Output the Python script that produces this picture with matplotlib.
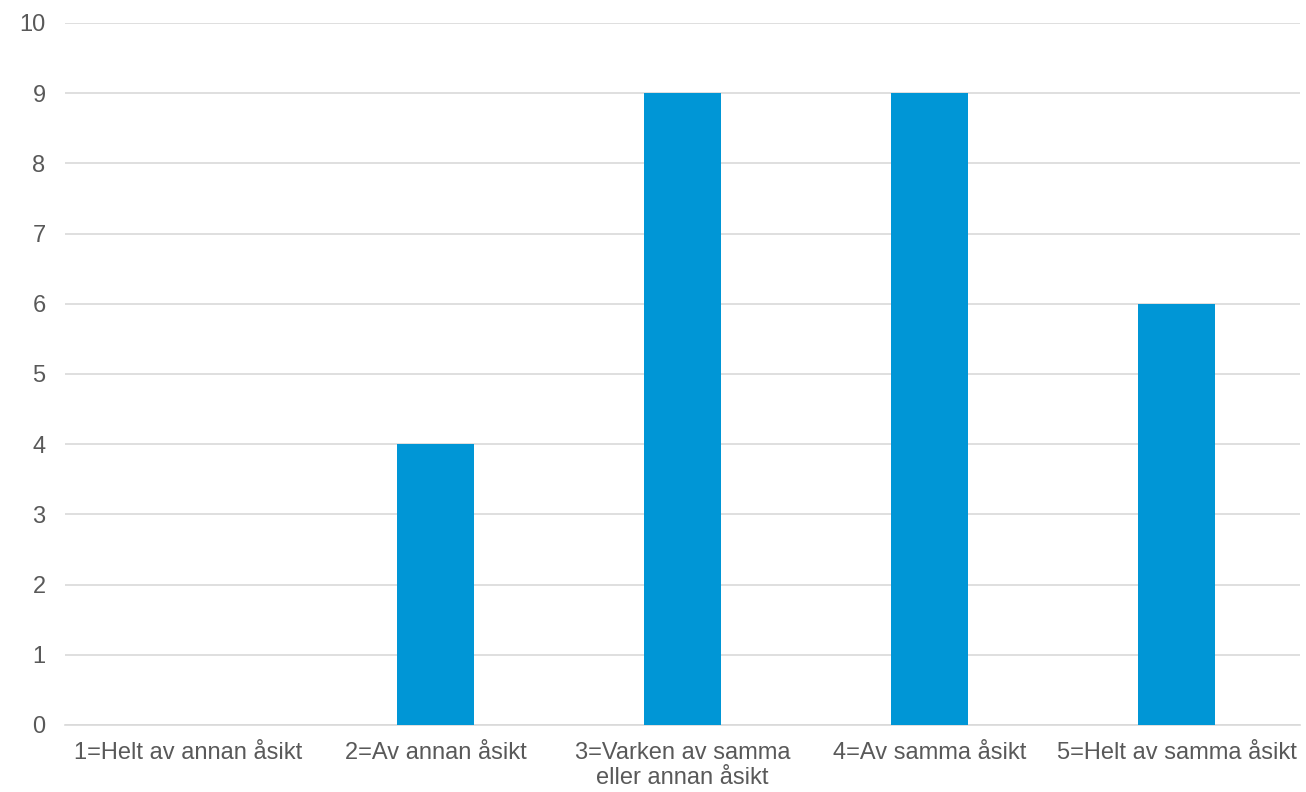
import matplotlib.pyplot as plt
import numpy as np

# answers to the question and how many picked each
categories = ['1=Helt av annan åsikt', '2=Av annan åsikt',
              '3=Varken av samma\neller annan åsikt', '4=Av samma åsikt',
              '5=Helt av samma åsikt']
counts = [0, 4, 9, 9, 6]
y_ticks = list(range(0, 11))

plt.rcParams['font.family'] = ['Liberation Sans', 'DejaVu Sans']

fig = plt.figure(figsize=(13.06, 7.92), dpi=100)
ax = fig.add_axes([0.0498, 0.0846, 0.9456, 0.8864])

x = np.arange(len(categories))
ax.bar(x, counts, width=0.31, color='#0096D6', zorder=3)

ax.set_xlim(-0.5, len(categories) - 0.5)
ax.set_ylim(0, 10)
ax.set_yticks(y_ticks)
ax.set_xticks(x)
ax.set_xticklabels(categories, linespacing=1.2)
ax.yaxis.grid(True, color='#D9D9D9', linewidth=1.2, zorder=0)
ax.tick_params(axis='both', length=0, labelsize=17, colors='#595959')
ax.tick_params(axis='y', pad=14)
ax.tick_params(axis='x', pad=12)
for side in ['top', 'right', 'left']:
    ax.spines[side].set_visible(False)
ax.spines['bottom'].set_color('#D9D9D9')
ax.spines['bottom'].set_linewidth(1.2)

fig.savefig('out.png')
